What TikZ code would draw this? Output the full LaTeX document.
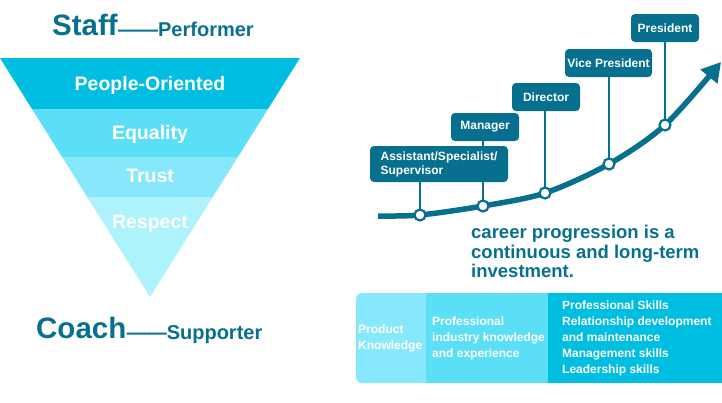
\documentclass[tikz,border=0pt]{standalone}
\usepackage{fontspec}
\setmainfont{Liberation Sans}
\usetikzlibrary{positioning,arrows.meta}

\definecolor{deepteal}{HTML}{08708F}
\definecolor{cyanA}{HTML}{00BEE2}
\definecolor{cyanB}{HTML}{5BDFF6}
\definecolor{cyanC}{HTML}{86E8FA}
\definecolor{cyanD}{HTML}{AEF2FC}

\begin{document}
\begin{tikzpicture}[x=1pt,y=-1pt,
  every node/.style={font=\bfseries,inner sep=0pt},
  headword/.style={text=deepteal,font=\bfseries\fontsize{29.5}{34}\selectfont,anchor=base west},
  roleword/.style={text=deepteal,font=\bfseries\fontsize{20}{23}\selectfont,yshift=-1.5pt},
  bandtext/.style={text=white,font=\bfseries\fontsize{19.5}{23}\selectfont,anchor=base},
  rankbox/.style={fill=deepteal,rounded corners=4pt,text=white,align=left,
    font=\bfseries\fontsize{12}{14}\selectfont,minimum height=28pt,minimum width=68pt},
  stemline/.style={draw=deepteal,line width=2pt},
  rungdot/.style={circle,draw=deepteal,fill=white,line width=2.2pt,minimum size=11pt},
  careertext/.style={text=deepteal,align=left,anchor=north west,
    font=\bfseries\fontsize{18.5}{19.5}\selectfont},
  skilltext/.style={text=white,align=left,anchor=west,
    font=\bfseries\fontsize{12}{16}\selectfont}]
  \useasboundingbox (0,0) rectangle (722,402);

  % inverted pyramid
  \foreach \ya/\yb/\col in {58/109/cyanA,109/157/cyanB,157/197/cyanC,197/297/cyanD}
    \fill[\col] ({150-0.6276*(297-\ya)},\ya) -- ({150+0.6276*(297-\ya)},\ya)
      -- ({150+0.6276*(297-\yb)},\yb) -- ({150-0.6276*(297-\yb)},\yb) -- cycle;
  \node[bandtext] (people) at (150,90) {People-Oriented};
  \node[bandtext] (equality) at (150,139) {Equality};
  \node[bandtext] (trust) at (150,182) {Trust};
  \node[bandtext] (respect) at (150,228) {Respect};

  \node[headword] (staff) at (52,35) {Staff};
  \node[roleword,base right=0pt of staff] (performer) {——Performer};
  \node[headword] (coach) at (36,338) {Coach};
  \node[roleword,base right=0pt of coach] (supporter) {——Supporter};

  % career curve
  \coordinate (p1) at (420,215);
  \coordinate (p2) at (483,206);
  \coordinate (p3) at (545,193);
  \coordinate (p4) at (609,164);
  \coordinate (p5) at (665,125);
  \draw[deepteal,line width=5.5pt,-{Triangle[length=19pt,width=21pt]}]
    plot[smooth] coordinates {(378,216) (p1) (p2) (p3) (p4) (p5) (721,62)};

  \node[rankbox] (manager) at (485,127) {Manager};
  \draw[stemline] (manager.south -| p2) -- (p2);
  \node[rankbox,minimum width=138pt,minimum height=36pt] (assistant) at (439,164)
    {Assistant/Specialist/\\Supervisor};
  \draw[stemline] (assistant.south -| p1) -- (p1);
  \node[rankbox] (director) at (546,97) {Director};
  \draw[stemline] (director.south -| p3) -- (p3);
  \node[rankbox,minimum width=87pt] (vice) at (608.5,63) {Vice President};
  \draw[stemline] (vice.south -| p4) -- (p4);
  \node[rankbox] (president) at (665,28) {President};
  \draw[stemline] (president.south -| p5) -- (p5);
  \foreach \i in {1,...,5}
    \node[rungdot] (c\i) at (p\i) {};

  \node[careertext] (career) at (471,225)
    {career progression is a\\continuous and long-term\\investment.};

  % skills bar
  \fill[cyanC] (426,293) [rounded corners=6pt] -- (356,293) -- (356,383)
    [sharp corners] -- (426,383) -- cycle;
  \fill[cyanB] (426,293) rectangle (548,383);
  \fill[cyanA] (548,293) rectangle (722,383);
  \node[skilltext] (product) at (358,338) {Product\\Knowledge};
  \node[skilltext] (industry) at (432,338)
    {Professional\\industry knowledge\\and experience};
  \node[skilltext] (skills) at (562,338)
    {Professional Skills\\Relationship development\\and maintenance\\Management skills\\Leadership skills};
\end{tikzpicture}
\end{document}
